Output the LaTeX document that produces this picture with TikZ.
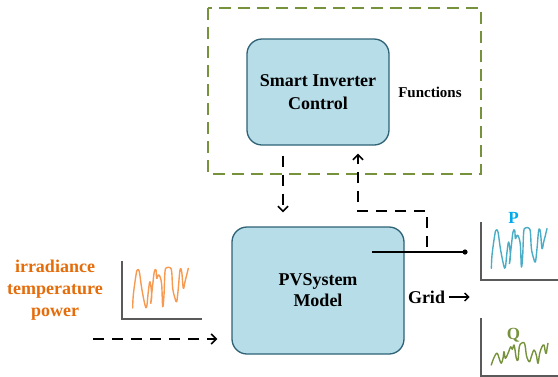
\documentclass[tikz,border=0pt]{standalone}
\usepackage{fontspec}
\setmainfont{Liberation Serif}
\usetikzlibrary{arrows.meta}
\definecolor{boxfill}{RGB}{183,221,232}
\definecolor{boxline}{RGB}{46,98,118}
\definecolor{olive}{RGB}{118,146,60}
\definecolor{txtorange}{RGB}{228,108,10}
\definecolor{sigorange}{RGB}{247,154,80}
\definecolor{txtblue}{RGB}{0,170,235}
\definecolor{sigblue}{RGB}{75,172,198}
\definecolor{axisgray}{RGB}{90,90,90}
\newcommand{\orangesig}{(132.7,308) (133.3,295) (136,275) (137.3,270) (139.3,271.7) (141.7,288.3) (145,305) (146.7,306.7) (148.3,291.7) (150,281.7) (151.7,295) (150.7,303.3) (152.7,285) (154.3,271.7) (156,270) (156.7,278.3) (158.3,275) (160,276.7) (161.7,285) (162.7,306.7) (164,295) (165,271.7) (166.7,267.7) (170,267.7) (171.7,271.7) (172.7,288.3) (175,298.3) (176.7,301.7) (178.3,288.3) (180,270) (181.7,271.7) (183.3,288.3) (185,281.7) (186.7,275) (188.3,268.3)}
\begin{document}
\begin{tikzpicture}[x=1pt,y=-1pt,
    block/.style={draw=boxline,line width=1.3pt,fill=boxfill,rounded corners=15pt,
        align=center,font=\fontsize{18}{22.5}\selectfont\bfseries},
    flow/.style={dashed,dash pattern=on 11pt off 8pt,line width=1.6pt,
        -{Straight Barb[length=5pt,width=10pt]}},
    axis/.style={draw=axisgray,line width=1.4pt},
    sig/.style={line width=1.4pt,smooth,tension=0.6,line cap=round,line join=round}]
    \useasboundingbox (0,0) rectangle (558,376);
    % functions frame
    \draw[olive,line width=1.6pt,dash pattern=on 12pt off 7pt] (208,8) rectangle (481,174);
    \node[block,minimum width=142pt,minimum height=106pt] (sic) at (318,92) {Smart Inverter\\Control};
    \node[font=\fontsize{15}{18}\selectfont\bfseries] (fun) at (430,92) {Functions};
    \node[block,minimum width=172pt,minimum height=127pt,
        font=\fontsize{18}{21}\selectfont\bfseries] (pv) at (318,290.5) {PVSystem\\Model};
    % links
    \draw[flow,shorten <=10pt,shorten >=14pt] ([xshift=-35pt]sic.south) -- ([xshift=-35pt]pv.north);
    \coordinate (out) at (372,252);
    \coordinate (dot) at (465,252);
    \coordinate (tap) at (427,247);
    \draw[line width=1.4pt] (out) -- (dot);
    \fill (dot) circle (2.6pt);
    \draw[flow,shorten >=8pt] (tap) -- (427,211) -| ([xshift=40pt]sic.south);
    % inputs
    \node[txtorange,align=center,font=\fontsize{18}{22}\selectfont\bfseries] (inp) at (55,290)
        {irradiance\\temperature\\power};
    \coordinate (in) at (93,339);
    \draw[flow,shorten >=14pt] (in) -- (in -| pv.west);
    \draw[axis] (122,261) -- (122,319) -- (202,319);
    \draw[sig,sigorange] plot coordinates {\orangesig};
    % outputs
    \node[font=\fontsize{18}{21}\selectfont\bfseries] (grid) at (426.5,297) {Grid};
    \draw[line width=1.3pt,-{Straight Barb[length=4pt,width=8pt]}] (grid.east) -- ++(21pt,0);
    \draw[axis] (481,222) -- (481,280) -- (558,280);
    \draw[sig,sigblue,shift={(358.7,-39.7)}] plot coordinates {\orangesig};
    \node[txtblue,font=\fontsize{17}{20}\selectfont\bfseries] (p) at (513.5,218) {P};
    \draw[axis] (481,318) -- (481,376) -- (558,376);
    \draw[sig,olive] plot coordinates {(491.3,365) (493,360) (495.3,355) (497.3,353.3) (499.7,360) (501.3,363.3) (503,358.3) (504,351.7) (505.3,358.3) (507.3,355) (508.7,351.7) (510.7,346.7) (512.3,349.3) (514,345) (515.3,351.7) (516.3,358.3) (518,360) (519.3,346.7) (521.3,343.3) (524,342.7) (525.3,346.7) (526.3,355) (528,360) (529.7,361.7) (531.3,356.7) (534,350) (536.3,355) (538,363.3) (539.7,353.3) (542,346.7) (544,345) (545.3,351.7) (546.3,353.3) (547.3,346.7) (548,343.3)};
    \node[olive,font=\fontsize{17}{20}\selectfont\bfseries] (q) at (513.5,335) {Q};
\end{tikzpicture}
\end{document}
